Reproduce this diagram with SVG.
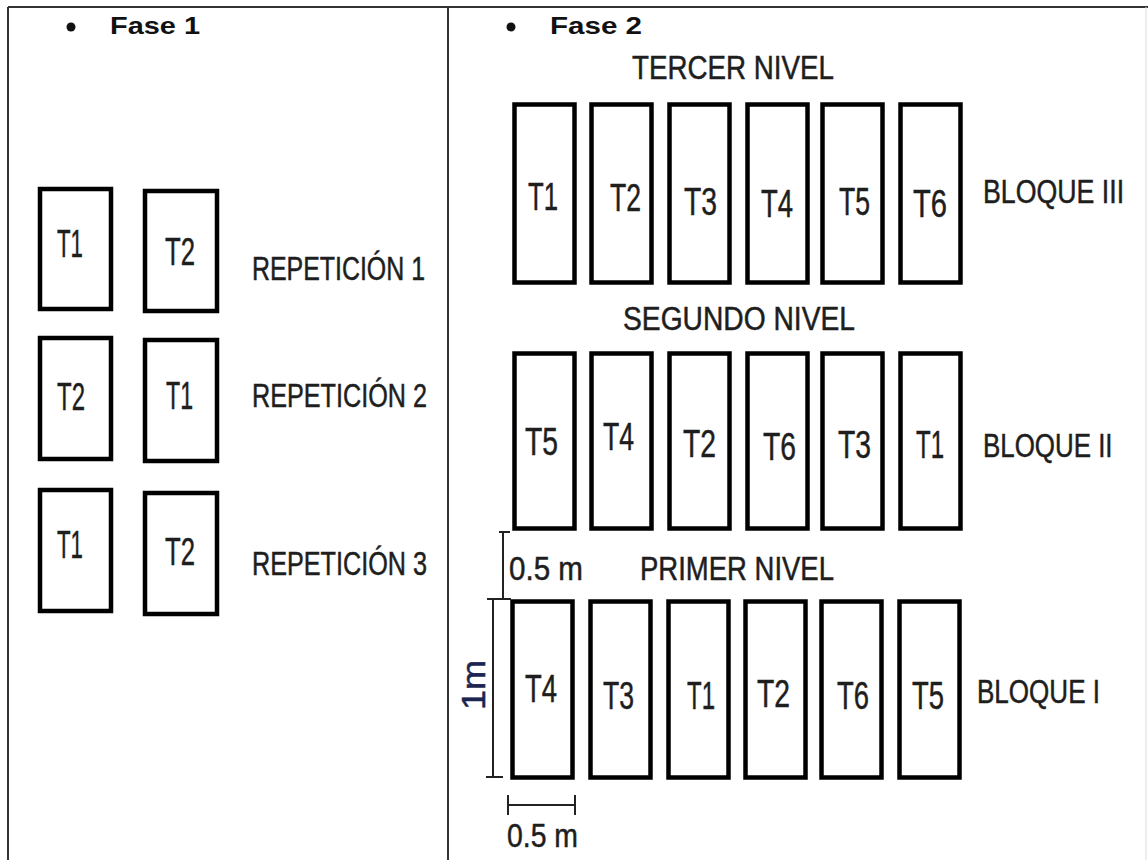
<svg xmlns="http://www.w3.org/2000/svg" width="1148" height="860" viewBox="0 0 1148 860">
<style>
.plot{fill:#fff;stroke:#000;stroke-width:4.5}
.frame{stroke:#333;stroke-width:2;fill:none}
.t{font-family:"Liberation Sans",Arial,sans-serif;fill:#1e1e1e;stroke:#1e1e1e;stroke-width:0.5;font-size:38px}
.lbl{font-family:"Liberation Sans",Arial,sans-serif;fill:#1e1e1e;stroke:#1e1e1e;stroke-width:0.5;font-size:33px}
.head{font-family:"Liberation Sans",Arial,sans-serif;font-weight:bold;fill:#111;font-size:24px}
.dim{stroke:#222;stroke-width:2;fill:none}
</style>
<rect width="1148" height="860" fill="#fff"/>
<g id="frame">
<line class="frame" x1="8" y1="7" x2="1148" y2="7"/>
<line class="frame" x1="8" y1="7" x2="8" y2="860"/>
<line class="frame" x1="448" y1="7" x2="448" y2="860"/>
<line x1="1146" y1="7" x2="1146" y2="860" stroke="#ddd" stroke-width="1"/>
</g>
<g id="fase1-title">
<circle cx="71" cy="27" r="4.5" fill="#111"/>
<text class="head" x="110" y="34" textLength="90" lengthAdjust="spacingAndGlyphs">Fase 1</text>
</g>
<g id="fase2-title">
<circle cx="511" cy="27" r="4.5" fill="#111"/>
<text class="head" x="550" y="34" textLength="92" lengthAdjust="spacingAndGlyphs">Fase 2</text>
</g>
<!-- Fase 1 -->
<g id="f1-r1-t1"><rect class="plot" x="40" y="189" width="71" height="120"/><text class="t" x="57" y="257" textLength="26" lengthAdjust="spacingAndGlyphs">T1</text></g>
<g id="f1-r1-t2"><rect class="plot" x="145" y="191" width="72" height="120"/><text class="t" x="165" y="265" textLength="30" lengthAdjust="spacingAndGlyphs">T2</text></g>
<g id="f1-r2-t2"><rect class="plot" x="40" y="338" width="71" height="121"/><text class="t" x="57" y="410" textLength="28" lengthAdjust="spacingAndGlyphs">T2</text></g>
<g id="f1-r2-t1"><rect class="plot" x="145" y="340" width="72" height="121"/><text class="t" x="166" y="409" textLength="27" lengthAdjust="spacingAndGlyphs">T1</text></g>
<g id="f1-r3-t1"><rect class="plot" x="40" y="490" width="71" height="121"/><text class="t" x="57" y="558" textLength="26" lengthAdjust="spacingAndGlyphs">T1</text></g>
<g id="f1-r3-t2"><rect class="plot" x="145" y="493" width="72" height="121"/><text class="t" x="165" y="565" textLength="30" lengthAdjust="spacingAndGlyphs">T2</text></g>
<g id="f1-labels">
<text class="lbl" x="252" y="280" textLength="173" lengthAdjust="spacingAndGlyphs">REPETICIÓN 1</text>
<text class="lbl" x="252" y="407" textLength="175" lengthAdjust="spacingAndGlyphs">REPETICIÓN 2</text>
<text class="lbl" x="252" y="575" textLength="175" lengthAdjust="spacingAndGlyphs">REPETICIÓN 3</text>
</g>
<!-- Fase 2 level titles -->
<g id="f2-levels">
<text class="lbl" x="632" y="79" font-size="36" textLength="202" lengthAdjust="spacingAndGlyphs">TERCER NIVEL</text>
<text class="lbl" x="623" y="330" font-size="36" textLength="232" lengthAdjust="spacingAndGlyphs">SEGUNDO NIVEL</text>
<text class="lbl" x="640" y="580" font-size="35" textLength="194" lengthAdjust="spacingAndGlyphs">PRIMER NIVEL</text>
</g>
<!-- Bloque III -->
<g id="b3-1"><rect class="plot" x="514.5" y="104.5" width="60" height="178"/><text class="t" x="528" y="210" textLength="30" lengthAdjust="spacingAndGlyphs">T1</text></g>
<g id="b3-2"><rect class="plot" x="591.5" y="104.5" width="60" height="178"/><text class="t" x="610" y="211" textLength="31" lengthAdjust="spacingAndGlyphs">T2</text></g>
<g id="b3-3"><rect class="plot" x="669.5" y="104.5" width="60" height="178"/><text class="t" x="684" y="215" textLength="33" lengthAdjust="spacingAndGlyphs">T3</text></g>
<g id="b3-4"><rect class="plot" x="747.5" y="104.5" width="60" height="178"/><text class="t" x="761" y="217" textLength="32" lengthAdjust="spacingAndGlyphs">T4</text></g>
<g id="b3-5"><rect class="plot" x="822.5" y="104.5" width="60" height="178"/><text class="t" x="839" y="215" textLength="31" lengthAdjust="spacingAndGlyphs">T5</text></g>
<g id="b3-6"><rect class="plot" x="900.5" y="104.5" width="60" height="178"/><text class="t" x="913" y="217" textLength="34" lengthAdjust="spacingAndGlyphs">T6</text></g>
<text id="b3-label" class="lbl" transform="translate(983,203) scale(0.81,1)" font-size="35">BLOQUE III</text>
<!-- Bloque II -->
<g id="b2-1"><rect class="plot" x="514.5" y="353.5" width="60" height="175"/><text class="t" x="525" y="455" textLength="33" lengthAdjust="spacingAndGlyphs">T5</text></g>
<g id="b2-2"><rect class="plot" x="591.5" y="353.5" width="60" height="175"/><text class="t" x="603" y="450" textLength="31" lengthAdjust="spacingAndGlyphs">T4</text></g>
<g id="b2-3"><rect class="plot" x="669.5" y="353.5" width="60" height="175"/><text class="t" x="683" y="457" textLength="33" lengthAdjust="spacingAndGlyphs">T2</text></g>
<g id="b2-4"><rect class="plot" x="747.5" y="353.5" width="60" height="175"/><text class="t" x="763" y="460" textLength="33" lengthAdjust="spacingAndGlyphs">T6</text></g>
<g id="b2-5"><rect class="plot" x="822.5" y="353.5" width="60" height="175"/><text class="t" x="838" y="458" textLength="33" lengthAdjust="spacingAndGlyphs">T3</text></g>
<g id="b2-6"><rect class="plot" x="900.5" y="353.5" width="60" height="175"/><text class="t" x="916" y="458" textLength="28" lengthAdjust="spacingAndGlyphs">T1</text></g>
<text id="b2-label" class="lbl" transform="translate(983,457) scale(0.785,1)" font-size="35">BLOQUE II</text>
<!-- Bloque I -->
<g id="b1-1"><rect class="plot" x="512.5" y="601.5" width="60" height="176"/><text class="t" x="525" y="702" textLength="32" lengthAdjust="spacingAndGlyphs">T4</text></g>
<g id="b1-2"><rect class="plot" x="590.5" y="601.5" width="60" height="176"/><text class="t" x="603" y="709" textLength="31" lengthAdjust="spacingAndGlyphs">T3</text></g>
<g id="b1-3"><rect class="plot" x="668.5" y="601.5" width="60" height="176"/><text class="t" x="687" y="709" textLength="28" lengthAdjust="spacingAndGlyphs">T1</text></g>
<g id="b1-4"><rect class="plot" x="745.5" y="601.5" width="60" height="176"/><text class="t" x="757" y="707" textLength="33" lengthAdjust="spacingAndGlyphs">T2</text></g>
<g id="b1-5"><rect class="plot" x="821.5" y="601.5" width="60" height="176"/><text class="t" x="837" y="709" textLength="32" lengthAdjust="spacingAndGlyphs">T6</text></g>
<g id="b1-6"><rect class="plot" x="899.5" y="601.5" width="60" height="176"/><text class="t" x="912" y="709" textLength="32" lengthAdjust="spacingAndGlyphs">T5</text></g>
<text id="b1-label" class="lbl" transform="translate(977,703) scale(0.789,1)" font-size="35">BLOQUE I</text>
<!-- dimension lines -->
<g id="connectors">
<line class="dim" x1="503" y1="532" x2="503" y2="599"/>
<line class="dim" x1="499" y1="532" x2="510" y2="532"/>
<line class="dim" x1="493" y1="599" x2="493" y2="777"/>
<line class="dim" x1="487" y1="599" x2="511" y2="599"/>
<line class="dim" x1="486" y1="777" x2="503" y2="777"/>
<line class="dim" x1="508" y1="805" x2="575" y2="805"/>
<line class="dim" x1="508" y1="795" x2="508" y2="815"/>
<line class="dim" x1="575" y1="795" x2="575" y2="815"/>
</g>
<g id="dim-labels">
<text class="lbl" x="509" y="580" font-size="35" textLength="74" lengthAdjust="spacingAndGlyphs">0.5 m</text>
<text class="lbl" x="507" y="847" font-size="37" textLength="71" lengthAdjust="spacingAndGlyphs">0.5 m</text>
<text class="lbl" transform="translate(485,685) rotate(-90)" text-anchor="middle" font-size="31" textLength="50" lengthAdjust="spacingAndGlyphs" style="fill:#1b2550;stroke:#1b2550">1m</text>
</g>
</svg>
